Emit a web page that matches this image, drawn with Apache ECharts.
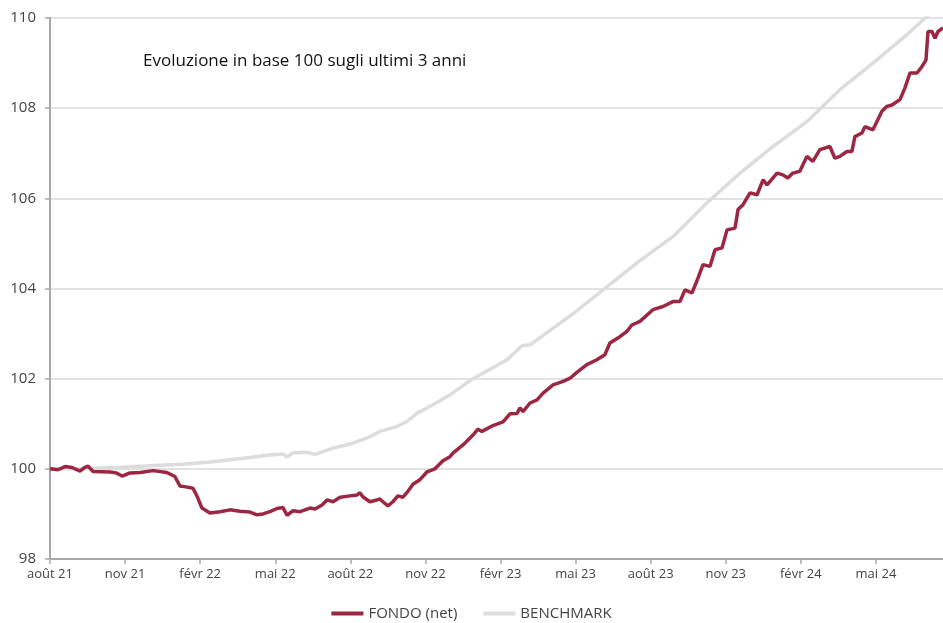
<!DOCTYPE html>
<html>
<head>
<meta charset="utf-8">
<script src="https://cdn.jsdelivr.net/npm/echarts@6/dist/echarts.min.js"></script>
<style>
  html,body{margin:0;padding:0;background:#fff;}
  #chart{width:943px;height:623px;}
</style>
</head>
<body>
<div id="chart"></div>
<script>
(function(){
  // ===== Dati (x = mesi da agosto 2021) =====
  const fundMonths = [0,0.32,0.6,0.88,1.2,1.36,1.52,1.72,2.4,2.64,2.88,3.2,3.6,4.12,4.67,4.99,5.19,5.43,5.71,5.87,6.07,6.39,6.79,7.19,7.59,7.99,8.27,8.51,8.79,9.07,9.31,9.47,9.71,9.99,10.39,10.59,10.87,11.07,11.31,11.59,11.99,12.27,12.38,12.5,12.78,13.06,13.18,13.3,13.5,13.7,13.9,14.1,14.3,14.5,14.78,15.06,15.38,15.7,15.98,16.1,16.5,16.9,17.1,17.26,17.7,18.1,18.38,18.66,18.78,18.9,19.18,19.46,19.7,20.1,20.5,20.78,21.05,21.45,21.85,22.17,22.37,22.77,23.05,23.25,23.57,24.09,24.49,24.89,25.17,25.37,25.65,25.89,26.09,26.37,26.57,26.85,27.05,27.37,27.49,27.69,27.97,28.25,28.49,28.65,29.05,29.28,29.48,29.68,29.96,30.24,30.48,30.76,31.16,31.36,31.56,31.84,32.04,32.16,32.44,32.56,32.88,33.24,33.44,33.64,33.96,34.16,34.36,34.64,34.84,35.0,35.08,35.24,35.36,35.48,35.68];
  const fundValues = [100.0,99.98,100.05,100.03,99.95,100.02,100.06,99.94,99.93,99.91,99.84,99.91,99.92,99.96,99.92,99.83,99.62,99.6,99.57,99.4,99.13,99.02,99.05,99.09,99.06,99.04,98.98,99.0,99.05,99.12,99.14,98.97,99.07,99.05,99.13,99.11,99.2,99.31,99.27,99.37,99.4,99.42,99.47,99.38,99.27,99.31,99.33,99.27,99.18,99.27,99.4,99.37,99.5,99.66,99.76,99.93,100.0,100.18,100.27,100.35,100.53,100.75,100.88,100.83,100.96,101.04,101.22,101.23,101.35,101.27,101.46,101.53,101.68,101.86,101.94,102.01,102.14,102.31,102.42,102.53,102.79,102.93,103.05,103.19,103.27,103.53,103.6,103.71,103.71,103.97,103.9,104.23,104.53,104.49,104.86,104.9,105.3,105.34,105.75,105.86,106.12,106.08,106.41,106.3,106.56,106.52,106.45,106.56,106.6,106.93,106.82,107.08,107.15,106.89,106.93,107.04,107.04,107.37,107.45,107.59,107.52,107.93,108.04,108.07,108.19,108.45,108.78,108.78,108.92,109.07,109.7,109.7,109.55,109.7,109.78];

  const benchMonths = [0,1.2,2.68,4.0,5.31,6.39,7.19,7.99,8.67,9.31,9.47,9.71,10.27,10.59,11.31,11.99,12.66,13.18,13.86,14.26,14.66,15.3,15.98,16.9,18.26,18.86,19.18,19.58,20.9,22.21,23.57,24.89,26.25,27.57,28.89,30.24,31.56,32.88,34.24,34.96,35.68];
  const benchValues = [100.0,100.0,100.03,100.07,100.1,100.15,100.2,100.25,100.3,100.33,100.26,100.35,100.37,100.32,100.46,100.55,100.68,100.83,100.94,101.05,101.23,101.42,101.64,102.0,102.42,102.73,102.75,102.91,103.44,104.02,104.62,105.15,105.9,106.56,107.15,107.7,108.41,109.0,109.63,110.0,110.35];

  const MESI = ['janv','févr','mars','avr','mai','juin','juil','août','sept','oct','nov','déc'];
  const yTicks = [98,100,102,104,106,108,110];

  function pairs(xs, ys){ return xs.map((x,i)=>[x, ys[i]]); }
  function labelMese(v){
    const idx = 7 + Math.round(v);
    return MESI[idx % 12] + ' ' + (21 + Math.floor(idx/12));
  }

  const chart = echarts.init(document.getElementById('chart'), null, {renderer:'canvas'});
  const FONT = 'Open Sans';

  chart.setOption({
    animation:false,
    title:{
      text:'Evoluzione in base 100 sugli ultimi 3 anni',
      left:138, top:48,
      textStyle:{fontFamily:FONT, fontSize:17, fontWeight:'normal', color:'#111'}
    },
    grid:{left:50, right:0, top:18, bottom:64, containLabel:false, outerBoundsMode:'none'},
    legend:{
      bottom:-3, left:'center',
      icon:'rect',
      itemWidth:32, itemHeight:4, itemGap:26,
      textStyle:{fontFamily:FONT, fontSize:15, color:'#444'},
      data:['FONDO (net)','BENCHMARK']
    },
    xAxis:{
      type:'value', min:0, max:35.68, interval:3,
      axisLine:{lineStyle:{color:'#a8a8a8', width:2}},
      axisTick:{show:true, length:5, lineStyle:{color:'#a8a8a8', width:1.5}},
      axisLabel:{formatter:labelMese, showMaxLabel:false, fontFamily:FONT, fontSize:13, color:'#444', margin:9},
      splitLine:{show:false}
    },
    yAxis:{
      type:'value', min:yTicks[0], max:yTicks[yTicks.length-1], interval:2,
      axisLine:{show:true, lineStyle:{color:'#a8a8a8', width:2}},
      axisTick:{show:true, length:5, lineStyle:{color:'#a8a8a8', width:1.5}},
      axisLabel:{fontFamily:FONT, fontSize:15, color:'#444', margin:14},
      splitLine:{lineStyle:{color:'#e2e2e2', width:2}}
    },
    series:[
      {name:'BENCHMARK', type:'line', data:pairs(benchMonths, benchValues), showSymbol:false, symbol:'none',
       lineStyle:{color:'#dcdcdc', width:3.5}, itemStyle:{color:'#dcdcdc'}, z:2},
      {name:'FONDO (net)', type:'line', data:pairs(fundMonths, fundValues), showSymbol:false, symbol:'none',
       lineStyle:{color:'#9b2743', width:3.5}, itemStyle:{color:'#9b2743'}, z:3}
    ]
  });
})();
</script>
</body>
</html>
